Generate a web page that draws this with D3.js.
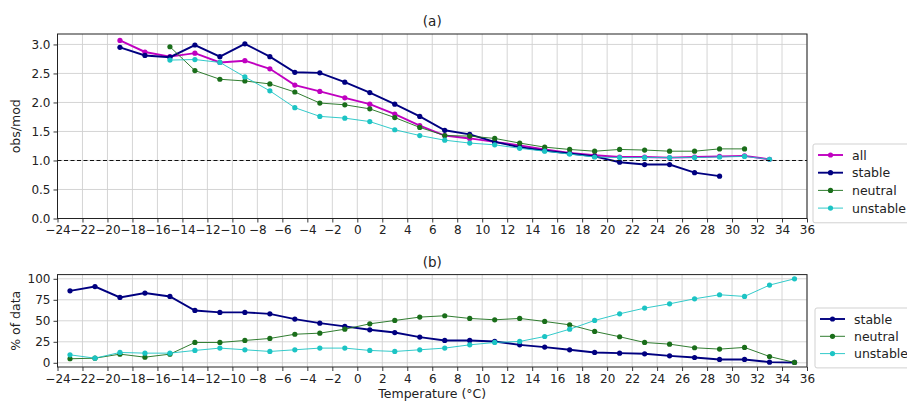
<!DOCTYPE html>
<html>
<head>
<meta charset="utf-8">
<script src="https://d3js.org/d3.v7.min.js"></script>
<style>
  body { margin: 0; background: #fff; }
  svg { font-family: "DejaVu Sans", sans-serif; }
  .grid line { stroke: #d0d0d0; stroke-width: 0.9; }
</style>
</head>
<body>
<div id="chart"></div>
<script>
  // temperature bins (bin centres)
  const tTop = [-19, -17, -15, -13, -11, -9, -7, -5, -3, -1, 1, 3, 5, 7, 9, 11, 13, 15, 17, 19, 21, 23, 25, 27, 29, 31, 33];
  const tBottom = [-23, -21, -19, -17, -15, -13, -11, -9, -7, -5, -3, -1, 1, 3, 5, 7, 9, 11, 13, 15, 17, 19, 21, 23, 25, 27, 29, 31, 33, 35];

  // panel (a): obs/mod ratio, null where no data
  const allRatio = [3.07, 2.87, 2.79, 2.85, 2.69, 2.72, 2.58, 2.30, 2.19, 2.08, 1.97, 1.80, 1.60, 1.43, 1.38, 1.32, 1.26, 1.19, 1.13, 1.09, 1.06, 1.06, 1.05, 1.06, 1.07, 1.08, 1.02];
  const stableRatio = [2.95, 2.81, 2.78, 2.99, 2.79, 3.01, 2.79, 2.52, 2.51, 2.35, 2.17, 1.97, 1.76, 1.52, 1.45, 1.32, 1.23, 1.17, 1.12, 1.07, 0.97, 0.93, 0.93, 0.79, 0.73, null, null];
  const neutralRatio = [null, null, 2.96, 2.55, 2.40, 2.37, 2.32, 2.18, 1.99, 1.96, 1.89, 1.74, 1.57, 1.43, 1.42, 1.38, 1.30, 1.23, 1.19, 1.16, 1.19, 1.18, 1.16, 1.16, 1.20, 1.20, null];
  const unstableRatio = [null, null, 2.73, 2.74, 2.69, 2.44, 2.20, 1.91, 1.76, 1.73, 1.67, 1.53, 1.43, 1.35, 1.30, 1.27, 1.21, 1.16, 1.11, 1.06, 1.05, 1.05, 1.05, 1.05, 1.06, 1.07, 1.02];

  // panel (b): share of data (%)
  const stablePct = [85.7, 90.8, 77.8, 83, 79, 62.3, 60, 60, 58.3, 52, 47.2, 43.3, 39.3, 36, 30.6, 26.6, 26.6, 25.4, 21.4, 18.7, 15.5, 12.3, 11.5, 10.7, 8.3, 6.3, 4, 4, 0.8, 0.4];
  const neutralPct = [4.8, 5.5, 10.3, 6.7, 10.3, 24.2, 24.2, 26.6, 29, 34, 35.3, 40, 46.4, 50.4, 54.4, 56, 52.8, 51.2, 52.8, 49.2, 45.2, 37.3, 31, 24.2, 22.2, 17.9, 16.3, 18.3, 7.5, 0.4];
  const unstablePct = [9.5, 5.5, 12.3, 11.5, 11.5, 14.7, 17.5, 15.5, 13.5, 15.5, 17.5, 17.5, 14.7, 13.5, 15.5, 17.5, 21.4, 24.2, 25.4, 31.3, 40, 50.4, 58.3, 65.1, 70.2, 76.2, 81, 79, 92.5, 100];

  const xTicks = d3.range(-24, 37, 2);
  const yTicksTop = [0, 0.5, 1.0, 1.5, 2.0, 2.5, 3.0];
  const yTicksBottom = [0, 25, 50, 75, 100];

  const W = 907, H = 402;
  const left = 57.5, right = 807;

  const svg = d3.select('#chart').append('svg')
    .attr('width', W)
    .attr('height', H);

  const x = d3.scaleLinear().domain([-24, 36]).range([left, right]);
  const yA = d3.scaleLinear().domain([0, 3.18]).range([218.5, 34]);
  const yB = d3.scaleLinear().domain([-5, 105]).range([367, 274.6]);

  const fmtMinus = d => String(d).replace('-', '\u2212');

  function panel(y, yTicks, yFmt, series, title, ylabel, legendBox) {
    const g = svg.append('g');
    const [top, bottom] = [y.range()[1], y.range()[0]];

    // grid
    g.append('g').attr('class', 'grid')
      .selectAll('line.v').data(xTicks).join('line')
      .attr('x1', d => x(d)).attr('x2', d => x(d))
      .attr('y1', top).attr('y2', bottom);
    g.append('g').attr('class', 'grid')
      .selectAll('line.h').data(yTicks).join('line')
      .attr('x1', left).attr('x2', right)
      .attr('y1', d => y(d)).attr('y2', d => y(d));

    // axes
    const xa = g.append('g').attr('transform', `translate(0,${bottom})`)
      .call(d3.axisBottom(x).tickValues(xTicks).tickFormat(fmtMinus).tickSize(4).tickPadding(3));
    const ya = g.append('g').attr('transform', `translate(${left},0)`)
      .call(d3.axisLeft(y).tickValues(yTicks).tickFormat(yFmt).tickSize(4).tickPadding(3));
    [xa, ya].forEach(a => {
      a.attr('font-family', '"DejaVu Sans", sans-serif').attr('font-size', 12);
      a.select('.domain').remove();
      a.selectAll('.tick line').attr('stroke', '#222').attr('stroke-width', 0.9);
      a.selectAll('.tick text').attr('fill', '#222');
    });

    // lines
    series.forEach(s => {
      const pts = s.xs.map((t, i) => ({ t, v: s.vals[i] })).filter(p => p.v != null);
      g.append('path')
        .datum(pts)
        .attr('fill', 'none')
        .attr('stroke', s.color)
        .attr('stroke-width', s.width)
        .attr('d', d3.line().x(p => x(p.t)).y(p => y(p.v)));
      g.append('g').selectAll('circle').data(pts).join('circle')
        .attr('cx', p => x(p.t)).attr('cy', p => y(p.v))
        .attr('r', 2.6).attr('fill', s.color);
    });

    // frame
    g.append('rect')
      .attr('x', left).attr('y', top)
      .attr('width', right - left).attr('height', bottom - top)
      .attr('fill', 'none').attr('stroke', '#222').attr('stroke-width', 1);

    // title
    g.append('text')
      .attr('x', (left + right) / 2).attr('y', top - 8)
      .attr('text-anchor', 'middle')
      .attr('font-size', 13.5).attr('fill', '#222')
      .text(title);

    // y label
    g.append('text')
      .attr('transform', `translate(20,${(top + bottom) / 2}) rotate(-90)`)
      .attr('text-anchor', 'middle')
      .attr('font-size', 12.5).attr('fill', '#222')
      .text(ylabel);

    // legend
    const lg = g.append('g');
    const step = legendBox.step;
    lg.append('rect')
      .attr('x', legendBox.x).attr('y', legendBox.y)
      .attr('width', legendBox.w).attr('height', step * series.length + 8)
      .attr('fill', '#fff').attr('stroke', '#ccc').attr('stroke-width', 0.9).attr('rx', 2);
    series.forEach((s, i) => {
      const cy = legendBox.y + 11 + i * step;
      lg.append('line')
        .attr('x1', legendBox.x + 5).attr('x2', legendBox.x + 30)
        .attr('y1', cy).attr('y2', cy)
        .attr('stroke', s.color).attr('stroke-width', s.width);
      lg.append('circle')
        .attr('cx', legendBox.x + 17.5).attr('cy', cy).attr('r', 2.6).attr('fill', s.color);
      lg.append('text')
        .attr('x', legendBox.x + 39).attr('y', cy + 4.5)
        .attr('font-size', 12.5).attr('fill', '#222')
        .text(s.name);
    });
    return g;
  }

  const C = { all: '#c000c0', stable: '#000080', neutral: '#1a6e1a', unstable: '#1cc4c4' };

  const gA = panel(yA, yTicksTop, d => d.toFixed(1), [
    { name: 'all', xs: tTop, vals: allRatio, color: C.all, width: 1.9 },
    { name: 'stable', xs: tTop, vals: stableRatio, color: C.stable, width: 1.9 },
    { name: 'neutral', xs: tTop, vals: neutralRatio, color: C.neutral, width: 0.9 },
    { name: 'unstable', xs: tTop, vals: unstableRatio, color: C.unstable, width: 0.9 }
  ], '(a)', 'obs/mod', { x: 813, y: 144, w: 100, step: 17.7 });

  // reference line at 1.0
  gA.append('line')
    .attr('x1', left).attr('x2', right)
    .attr('y1', yA(1)).attr('y2', yA(1))
    .attr('stroke', '#111').attr('stroke-width', 1.1).attr('stroke-dasharray', '4,2.5');

  panel(yB, yTicksBottom, d => d, [
    { name: 'stable', xs: tBottom, vals: stablePct, color: C.stable, width: 1.9 },
    { name: 'neutral', xs: tBottom, vals: neutralPct, color: C.neutral, width: 0.9 },
    { name: 'unstable', xs: tBottom, vals: unstablePct, color: C.unstable, width: 0.9 }
  ], '(b)', '% of data', { x: 815, y: 308, w: 100, step: 17.3 });

  svg.append('text')
    .attr('x', (left + right) / 2).attr('y', 398)
    .attr('text-anchor', 'middle')
    .attr('font-size', 12.5).attr('fill', '#222')
    .text('Temperature (°C)');
</script>
</body>
</html>
